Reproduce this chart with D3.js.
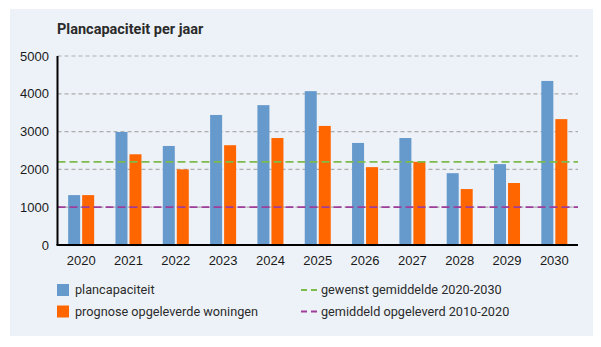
<!DOCTYPE html>
<html>
<head>
<meta charset="utf-8">
<script src="https://cdn.jsdelivr.net/npm/d3@7"></script>
<style>
  body { margin: 0; background: #fff; }
  svg { display: block; }
  text { font-family: "Liberation Sans", Arial, sans-serif; }
</style>
</head>
<body>
<figure id="chart" style="margin:0"></figure>
<script>
const years = ['2020', '2021', '2022', '2023', '2024', '2025', '2026', '2027', '2028', '2029', '2030'];
const plancapaciteit = [1320, 2990, 2620, 3440, 3700, 4070, 2700, 2830, 1900, 2140, 4340];
const prognose = [1320, 2400, 2000, 2640, 2830, 3150, 2060, 2200, 1480, 1640, 3330];
const yTicks = [0, 1000, 2000, 3000, 4000, 5000];
const gewenstGemiddelde = 2200;
const gemiddeldOpgeleverd = 1000;

const seriesNames = ['plancapaciteit', 'prognose opgeleverde woningen'];
const seriesColors = ['#6699cc', '#ff6600'];

const width = 601;
const height = 347;
const plot = {left: 57.5, right: 578, top: 56, bottom: 245};

const svg = d3.select('figure#chart')
  .append('svg')
  .attr('width', width)
  .attr('height', height);

// panel background
svg.append('rect')
  .attr('x', 10).attr('y', 9)
  .attr('width', 583).attr('height', 327)
  .attr('fill', '#edf2f8');

svg.append('text')
  .attr('x', 57).attr('y', 34)
  .style('font-family', 'Roboto, sans-serif')
  .style('font-weight', 'bold')
  .style('font-size', '14.5px')
  .attr('fill', '#2b2b2b')
  .text('Plancapaciteit per jaar');

const x = d3.scaleBand().domain(years).range([plot.left, plot.right]);
const x1 = d3.scaleBand().domain(d3.range(2)).range([-13, 13]).paddingInner(2 / 14);
const y = d3.scaleLinear().domain([0, 5000]).range([plot.bottom, plot.top]);

// dashed gridlines
svg.append('g')
  .selectAll('line')
  .data(yTicks.filter(d => d > 0))
  .enter()
  .append('line')
  .attr('x1', plot.left).attr('x2', plot.right)
  .attr('y1', d => y(d)).attr('y2', d => y(d))
  .attr('stroke', '#adadad')
  .attr('stroke-width', 1.2)
  .attr('stroke-dasharray', '4,3');

// y tick labels
svg.append('g')
  .selectAll('text')
  .data(yTicks)
  .enter()
  .append('text')
  .attr('x', 49)
  .attr('y', d => y(d))
  .attr('dy', '0.35em')
  .attr('text-anchor', 'end')
  .style('font-size', '13px')
  .attr('fill', '#1a1a1a')
  .text(d => d);

// bars
const groups = svg.append('g')
  .selectAll('g')
  .data(years)
  .enter()
  .append('g')
  .attr('transform', d => 'translate(' + (x(d) + x.bandwidth() / 2) + ',0)');

groups.selectAll('rect')
  .data((d, i) => [plancapaciteit[i], prognose[i]])
  .enter()
  .append('rect')
  .attr('x', (d, j) => x1(j))
  .attr('width', x1.bandwidth())
  .attr('y', d => y(d))
  .attr('height', d => y(0) - y(d))
  .attr('fill', (d, j) => seriesColors[j]);

// reference lines
const refLines = [
  {value: gewenstGemiddelde, color: '#7dbb4a', label: 'gewenst gemiddelde 2020-2030'},
  {value: gemiddeldOpgeleverd, color: '#9e3d9a', label: 'gemiddeld opgeleverd 2010-2020'}
];
svg.append('g')
  .selectAll('line')
  .data(refLines)
  .enter()
  .append('line')
  .attr('x1', plot.left).attr('x2', plot.right)
  .attr('y1', d => y(d.value)).attr('y2', d => y(d.value))
  .attr('stroke', d => d.color)
  .attr('stroke-width', 1.8)
  .attr('stroke-dasharray', '8,4');

// axes lines
svg.append('line')
  .attr('x1', plot.left).attr('x2', plot.left)
  .attr('y1', plot.top).attr('y2', plot.bottom)
  .attr('stroke', '#000').attr('stroke-width', 2);
svg.append('line')
  .attr('x1', plot.left - 1).attr('x2', plot.right)
  .attr('y1', plot.bottom).attr('y2', plot.bottom)
  .attr('stroke', '#000').attr('stroke-width', 2);

// x labels
svg.append('g')
  .selectAll('text')
  .data(years)
  .enter()
  .append('text')
  .attr('x', d => x(d) + x.bandwidth() / 2)
  .attr('y', 265)
  .attr('text-anchor', 'middle')
  .style('font-size', '13px')
  .attr('fill', '#1a1a1a')
  .text(d => d);

// legend
const legend = svg.append('g');
seriesNames.forEach((name, i) => {
  const ly = 290 + i * 21.5;
  legend.append('rect')
    .attr('x', 57).attr('y', ly - 6)
    .attr('width', 12).attr('height', 12)
    .attr('fill', seriesColors[i]);
  legend.append('text')
    .attr('x', 75).attr('y', ly)
    .attr('dy', '0.35em')
    .style('font-family', 'Roboto, sans-serif')
    .style('font-size', '12.7px')
    .attr('fill', '#2b2b2b')
    .text(name);
});
refLines.forEach((r, i) => {
  const ly = 290 + i * 21.5;
  legend.append('line')
    .attr('x1', 301).attr('x2', 317)
    .attr('y1', ly).attr('y2', ly)
    .attr('stroke', r.color)
    .attr('stroke-width', 1.8)
    .attr('stroke-dasharray', '6,4');
  legend.append('text')
    .attr('x', 321).attr('y', ly)
    .attr('dy', '0.35em')
    .style('font-family', 'Roboto, sans-serif')
    .style('font-size', '12.7px')
    .attr('fill', '#2b2b2b')
    .text(r.label);
});
</script>
</body>
</html>
